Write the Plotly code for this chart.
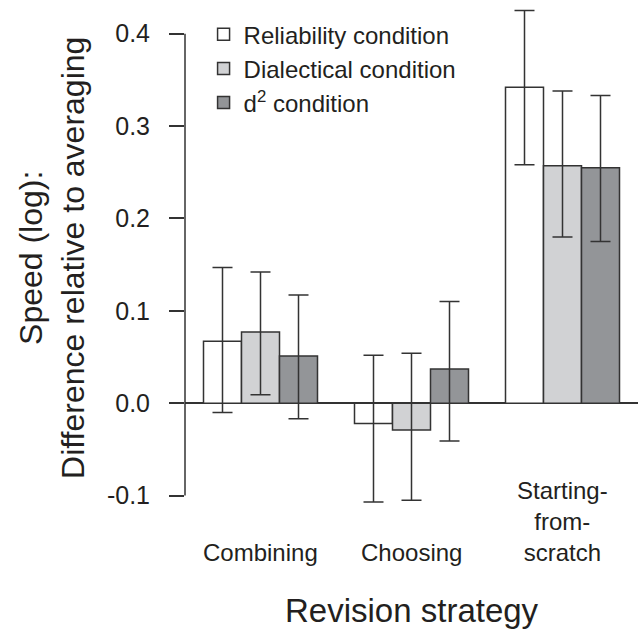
import plotly.graph_objects as go

# ---- data ----
strategies = ["Combining", "Choosing", "Starting-from-scratch"]
strategy_labels = ["Combining", "Choosing", "Starting-<br>from-<br>scratch"]
conditions = ["Reliability condition", "Dialectical condition", "d<sup>2</sup> condition"]

mean_reliability = [0.067, -0.022, 0.342]
low_reliability = [-0.010, -0.107, 0.258]
high_reliability = [0.147, 0.052, 0.425]

mean_dialectical = [0.077, -0.029, 0.257]
low_dialectical = [0.009, -0.105, 0.180]
high_dialectical = [0.142, 0.054, 0.338]

mean_d2 = [0.051, 0.037, 0.255]
low_d2 = [-0.017, -0.041, 0.175]
high_d2 = [0.117, 0.110, 0.333]

y_ticks = [-0.1, 0.0, 0.1, 0.2, 0.3, 0.4]
y_tick_labels = ["-0.1", "0.0", "0.1", "0.2", "0.3", "0.4"]

x_title = "Revision strategy"
y_title = "Speed (log):<br>Difference relative to averaging"

fill_colors = ["#ffffff", "#d1d2d4", "#939598"]
line_col = "#333333"
text_col = "#231f20"
FONT = "Liberation Sans, Arial, Helvetica, sans-serif"

series = [
    (mean_reliability, low_reliability, high_reliability),
    (mean_dialectical, low_dialectical, high_dialectical),
    (mean_d2, low_d2, high_d2),
]

fig = go.Figure()
for name, (m, lo, hi), col in zip(conditions, series, fill_colors):
    fig.add_trace(go.Bar(
        x=strategies,
        y=m,
        name=name,
        marker=dict(color=col, line=dict(color=line_col, width=1.5)),
        error_y=dict(
            type="data",
            symmetric=False,
            array=[h - v for h, v in zip(hi, m)],
            arrayminus=[v - l for v, l in zip(m, lo)],
            color=line_col,
            thickness=1.5,
            width=10,
        ),
    ))

# y-axis line spanning only the tick range
fig.add_shape(type="line", xref="paper", yref="y",
              x0=0, x1=0, y0=min(y_ticks), y1=max(y_ticks),
              line=dict(color=line_col, width=1.5))

# category labels (bottom-aligned, like the reference)
for cat, lab in zip(strategies, strategy_labels):
    fig.add_annotation(x=cat, xref="x", y=-0.106, yref="paper",
                       text=lab, showarrow=False, xanchor="center", yanchor="bottom",
                       align="center",
                       font=dict(size=24, family=FONT, color=text_col))

# axis titles
fig.add_annotation(x=0.5, xref="paper", y=-0.19, yref="paper", text=x_title,
                   showarrow=False, xanchor="center", yanchor="middle",
                   font=dict(size=33, family=FONT, color=text_col))
fig.add_annotation(x=-0.2936, xref="paper", y=0.504, yref="paper", text=y_title,
                   textangle=-90, showarrow=False, xanchor="center", yanchor="middle",
                   align="center",
                   font=dict(size=32, family=FONT, color=text_col))

fig.update_layout(
    width=640, height=632,
    margin=dict(l=185, r=2, t=6, b=118),
    paper_bgcolor="white", plot_bgcolor="white",
    barmode="group",
    bargap=0.245,
    bargroupgap=0,
    font=dict(family=FONT, color=text_col),
    showlegend=True,
    legend=dict(
        x=0.041, y=0.988, xanchor="left", yanchor="top",
        bgcolor="rgba(0,0,0,0)",
        font=dict(size=24, family=FONT, color=text_col),
        tracegroupgap=0,
        itemclick=False,
    ),
    xaxis=dict(
        type="category",
        categoryarray=strategies,
        automargin=False,
        showticklabels=False,
        showline=False, ticks="", showgrid=False, zeroline=False,
    ),
    yaxis=dict(
        range=[-0.12, 0.43],
        tickmode="array",
        tickvals=y_ticks,
        ticktext=y_tick_labels,
        automargin=False,
        ticks="outside", ticklen=15, tickwidth=1.5, tickcolor=line_col,
        ticklabelstandoff=14,
        showline=False, showgrid=False,
        zeroline=True, zerolinecolor=line_col, zerolinewidth=1.5,
        tickfont=dict(size=25, family=FONT, color=text_col),
    ),
)

fig.write_html("out.html", config={"displayModeBar": False},
               post_script="document.body.style.margin='0';")
